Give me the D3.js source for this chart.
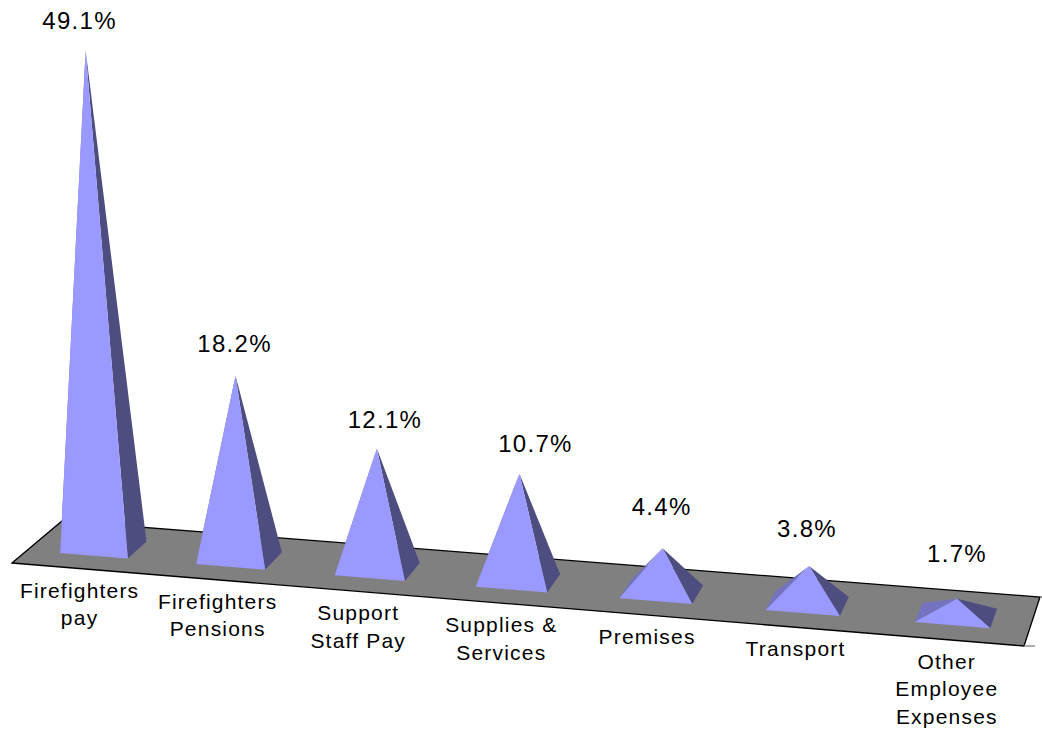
<!DOCTYPE html>
<html>
<head>
<meta charset="utf-8">
<script src="https://cdn.jsdelivr.net/npm/d3@7"></script>
<style>
body { margin: 0; background: #fff; }
text { font-family: "Liberation Sans", Arial, sans-serif; fill: #000; }
.cat { font-size: 21px; letter-spacing: 1.2px; }
.value { font-size: 24px; letter-spacing: 1.3px; }
</style>
</head>
<body>
<svg width="1042" height="731"></svg>
<script>
// data
var categories = [
    ['Firefighters', 'pay'],
    ['Firefighters', 'Pensions'],
    ['Support', 'Staff Pay'],
    ['Supplies &', 'Services'],
    ['Premises'],
    ['Transport'],
    ['Other', 'Employee', 'Expenses']
]
var values = [49.1, 18.2, 12.1, 10.7, 4.4, 3.8, 1.7]
var valueLabels = ['49.1%', '18.2%', '12.1%', '10.7%', '4.4%', '3.8%', '1.7%']

// hand placed value labels, offset from each apex
var labelDx = [-6, -1, 8, 16, -1, -2, 0]
var labelDy = [21, 24, 20, 22, 33, 29, 37]

// floor corners of the 3d box
var frontLeft = [12, 563], frontRight = [1024, 646], backRight = [1040, 597], backLeft = [62, 521]

var svg = d3.select('svg')

// category axis, widens slightly toward the right like the 3d view does
var band = d3.scaleLinear().domain([0, categories.length]).range([0, 1])
var warp = 0.066
function along(t) {
    var s = band(t)
    return s / (1 + warp - warp * s) - 0.0005
}
var height = d3.scalePow().exponent(1.01).domain([0, 49.1]).range([0, 497])

var lerpFront = d3.interpolate(frontLeft, frontRight)
var lerpBack = d3.interpolate(backLeft, backRight)
var depthShare = 0.4

// point on the floor: t along the categories, d from the front edge (0..1)
function floor(t, d) {
    return d3.interpolate(lerpFront(along(t)), lerpBack(along(t)))(d)
}

function pyramid(v, i) {
    var inset = (1 - depthShare) / 2
    var fl = floor(i + 0.25, inset)
    var fr = floor(i + 0.75, inset)
    var bl = floor(i + 0.25, 1 - inset)
    var br = floor(i + 0.75, 1 - inset)
    var cx = (fl[0] + br[0]) / 2
    var cy = (fl[1] + br[1]) / 2
    var h = height(v)
    // verticals lean outward from the middle of the view
    var apex = [cx + (cx - 400) * h * 0.00012, cy - h]
    return { fl: fl, fr: fr, bl: bl, br: br, apex: apex }
}
var pyramids = values.map(pyramid)

var line = d3.line()

// floor
svg.append('path')
    .attr('d', line([frontLeft, frontRight, backRight, backLeft]) + 'Z')
    .attr('fill', '#808080')
    .attr('stroke', '#000')
    .attr('stroke-width', 1.3)
svg.append('path')
    .attr('d', line([frontRight, [frontRight[0] + 11, frontRight[1]]]))
    .attr('stroke', '#808080')
    .attr('stroke-width', 1.3)
svg.append('path')
    .attr('d', line([backRight, [backRight[0] + 3, backRight[1]]]))
    .attr('stroke', '#808080')
    .attr('stroke-width', 1.3)

// faces
var g = svg.selectAll('g.pyramid').data(pyramids).enter().append('g').attr('class', 'pyramid')
g.append('path')
    .attr('d', function (d) { return line([d.fl, d.bl, d.apex]) + 'Z' })
    .attr('fill', '#7373BF')
g.append('path')
    .attr('d', function (d) { return line([d.fr, d.br, d.apex]) + 'Z' })
    .attr('fill', '#4D4D80')
g.append('path')
    .attr('d', function (d) { return line([d.fl, d.fr, d.apex]) + 'Z' })
    .attr('fill', '#9999FF')

// value labels
svg.selectAll('text.value').data(pyramids).enter().append('text')
    .attr('class', 'value')
    .attr('text-anchor', 'middle')
    .attr('x', function (d, i) { return d.apex[0] + labelDx[i] })
    .attr('y', function (d, i) { return d.apex[1] - labelDy[i] })
    .text(function (_, i) { return valueLabels[i] })

// category labels
var cat = svg.selectAll('text.cat').data(categories).enter().append('text')
    .attr('class', 'cat')
    .attr('text-anchor', 'middle')
    .attr('transform', function (_, i) {
        var p = lerpFront(along(i + 0.5))
        return 'translate(' + p[0] + ',' + (p[1] + 29) + ')'
    })
cat.selectAll('tspan').data(function (d) { return d }).enter().append('tspan')
    .attr('x', 0)
    .attr('y', function (_, i) { return i * 27.5 })
    .text(function (d) { return d })
</script>
</body>
</html>
